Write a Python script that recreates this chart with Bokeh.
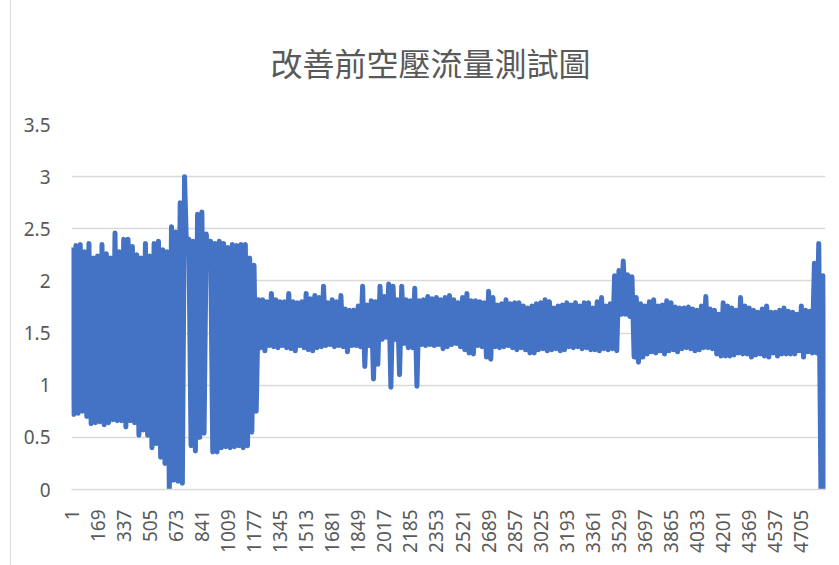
import numpy as np
from bokeh.plotting import figure
from bokeh.models import FixedTicker, Range1d
from bokeh.embed import file_html
from bokeh.resources import INLINE

title_text = "改善前空壓流量測試圖"

# number of logged samples and spacing between envelope readings
n_samples = 4860
reading_step = 28

# upper readings of the oscillating flow signal (one per reading step)
peak_high = [
    2.30, 2.34, 2.35, 2.28, 2.36, 2.22, 2.24, 2.35, 2.26, 2.22,
    2.46, 2.28, 2.40, 2.40, 2.33, 2.25, 2.22, 2.36, 2.24, 2.36,
    2.38, 2.30, 2.28, 2.52, 2.47, 2.75, 3.00, 2.40, 2.38, 2.64,
    2.66, 2.45, 2.38, 2.36, 2.38, 2.36, 2.32, 2.35, 2.34, 2.35,
    2.35, 2.22, 2.15,
    1.82, 1.82, 1.80, 1.88, 1.82, 1.80, 1.80, 1.88, 1.80, 1.79,
    1.80, 1.88, 1.83, 1.86,
    1.84, 1.95, 1.79, 1.82, 1.80, 1.86, 1.73, 1.72, 1.72, 1.76,
    1.95, 1.77, 1.81, 1.80, 1.95, 1.85, 1.97, 1.95, 1.82, 1.95,
    1.82, 1.81, 1.93, 1.81, 1.82, 1.85, 1.83, 1.84, 1.82,
    1.84, 1.86, 1.82, 1.79, 1.84, 1.88, 1.81, 1.81, 1.80, 1.79,
    1.90, 1.84, 1.77, 1.78, 1.82, 1.78, 1.79, 1.79, 1.76, 1.74,
    1.76, 1.78, 1.79, 1.82, 1.80, 1.74, 1.76, 1.77, 1.79,
    1.77, 1.79, 1.76, 1.79, 1.79, 1.74, 1.80, 1.84, 1.76, 1.78,
    2.05, 2.10, 2.19, 2.06, 2.04, 1.84, 1.78, 1.76, 1.80, 1.82,
    1.76, 1.77, 1.81, 1.79, 1.75, 1.74, 1.74, 1.75,
    1.73, 1.72, 1.76, 1.85, 1.73, 1.72, 1.68, 1.79, 1.76, 1.74,
    1.72, 1.84, 1.76, 1.74, 1.72, 1.70, 1.73, 1.76, 1.70, 1.70,
    1.72, 1.74, 1.71, 1.70, 1.68, 1.76, 1.72, 1.71, 2.17, 2.36,
    2.05,
]

# lower readings of the oscillating flow signal
peak_low = [
    0.72, 0.73, 0.75, 0.70, 0.63, 0.64, 0.65, 0.62, 0.64, 0.67,
    0.66, 0.66, 0.60, 0.66, 0.64, 0.52, 0.57, 0.52, 0.40, 0.44,
    0.31, 0.25, 0.00, 0.09, 0.08, 0.06, 2.25, 0.42, 0.37, 0.50,
    0.54, 2.18, 0.36, 0.36, 0.40, 0.41, 0.40, 0.41, 0.42, 0.40,
    0.42, 0.55, 0.75,
    1.36, 1.33, 1.38, 1.37, 1.36, 1.38, 1.36, 1.35, 1.33, 1.38,
    1.36, 1.34, 1.33, 1.36,
    1.37, 1.38, 1.39, 1.37, 1.38, 1.37, 1.32, 1.38, 1.38, 1.37,
    1.18, 1.38, 1.06, 1.20, 1.44, 1.46, 0.98, 1.44, 1.10, 1.40,
    1.36, 1.36, 0.99, 1.39, 1.38, 1.39, 1.38, 1.39, 1.35,
    1.37, 1.39, 1.40, 1.37, 1.34, 1.31, 1.30, 1.38, 1.37, 1.27,
    1.25, 1.37, 1.36, 1.37, 1.38, 1.36, 1.34, 1.36, 1.34, 1.31,
    1.31, 1.34, 1.35, 1.33, 1.34, 1.35, 1.33, 1.34, 1.37,
    1.36, 1.37, 1.35, 1.36, 1.34, 1.34, 1.33, 1.35, 1.34, 1.35,
    1.33, 1.68, 1.68, 1.66, 1.27, 1.22, 1.27, 1.30, 1.32, 1.31,
    1.33, 1.30, 1.33, 1.34, 1.32, 1.35, 1.36, 1.35,
    1.33, 1.34, 1.36, 1.36, 1.35, 1.30, 1.28, 1.28, 1.28, 1.29,
    1.31, 1.30, 1.30, 1.27, 1.29, 1.30, 1.28, 1.27, 1.31, 1.28,
    1.30, 1.30, 1.30, 1.30, 1.33, 1.27, 1.32, 1.31, 1.31, 0.00,
    0.00,
]

assert len(peak_high) == len(peak_low)

x_tick_labels = [1, 169, 337, 505, 673, 841, 1009, 1177, 1345, 1513,
                 1681, 1849, 2017, 2185, 2353, 2521, 2689, 2857, 3025,
                 3193, 3361, 3529, 3697, 3865, 4033, 4201, 4369, 4537,
                 4705]
y_ticks = [0, 0.5, 1, 1.5, 2, 2.5, 3, 3.5]
y_tick_labels = ["0", "0.5", "1", "1.5", "2", "2.5", "3", "3.5"]

# interleave: high reading, then low reading half a step later
samples = []
flow = []
for k, (hi, lo) in enumerate(zip(peak_high, peak_low)):
    start = 1 + k * reading_step
    samples += [start, start + reading_step // 2]
    flow += [hi, lo]

text_grey = "#595959"
grid_grey = "#d9d9d9"

p = figure(
    width=828, height=565,
    output_backend="svg", toolbar_location=None,
    x_range=Range1d(0.5, n_samples + 0.5),
    y_range=Range1d(0, 3.5),
    min_border_left=60, min_border_right=14,
    min_border_top=123, min_border_bottom=76,
    background_fill_color="white", border_fill_color="white",
    outline_line_color=None,
)
# chart-area frame line on the left side
p.margin = (0, 0, 0, 10)
p.styles = {"border-left": "1px solid #d9d9d9"}

p.title.text = title_text
p.title.align = "left"
p.title.vertical_align = "top"
p.title.offset = 199
p.title.standoff = 76
p.title.text_font = "Noto Sans CJK TC"
p.title.text_font_size = "32px"
p.title.text_font_style = "normal"
p.title.text_color = text_grey

# the flow trace
p.line(samples, flow, line_color="#4472C4", line_width=5,
       line_join="round", line_cap="round")

# horizontal gridlines only
p.xgrid.grid_line_color = None
p.ygrid.grid_line_color = grid_grey
p.ygrid.grid_line_width = 1.5

p.yaxis.ticker = FixedTicker(ticks=y_ticks)
p.yaxis.major_label_overrides = dict(zip(y_ticks, y_tick_labels))
p.yaxis.axis_line_color = None
p.yaxis.major_tick_line_color = None
p.yaxis.minor_tick_line_color = None
p.yaxis.major_label_standoff = 15
p.yaxis.major_label_text_font = "Noto Sans"
p.yaxis.major_label_text_font_size = "19px"
p.yaxis.major_label_text_color = text_grey

p.xaxis.ticker = FixedTicker(ticks=x_tick_labels)
p.xaxis.major_label_orientation = np.pi / 2
p.xaxis.axis_line_color = grid_grey
p.xaxis.axis_line_width = 1.5
p.xaxis.major_tick_line_color = None
p.xaxis.minor_tick_line_color = None
p.xaxis.major_label_standoff = 14
p.xaxis.major_label_text_font = "Noto Sans"
p.xaxis.major_label_text_font_size = "19px"
p.xaxis.major_label_text_color = text_grey

open("out.html", "w").write(file_html(p, INLINE))
